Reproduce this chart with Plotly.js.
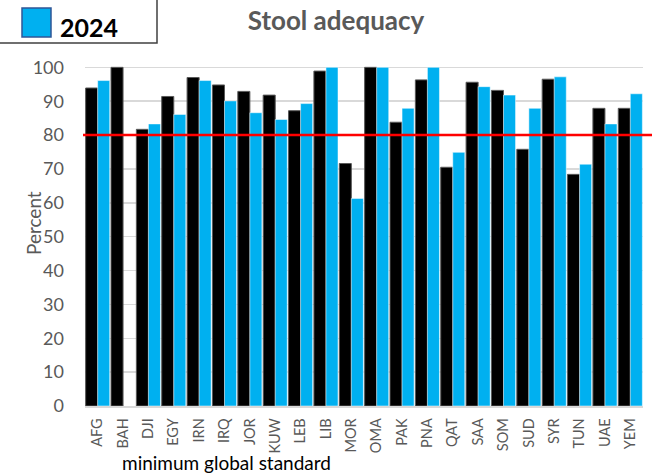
<!DOCTYPE html>
<html>
<head>
<meta charset="utf-8">
<script src="https://cdn.plot.ly/plotly-3.0.1.min.js"></script>
<style>html,body{margin:0;padding:0;background:#fff;}#chart{width:652px;height:476px;}</style>
</head>
<body>
<div id="chart"></div>
<script>
const countries = ["AFG","BAH","DJI","EGY","IRN","IRQ","JOR","KUW","LEB","LIB","MOR","OMA","PAK","PNA","QAT","SAA","SOM","SUD","SYR","TUN","UAE","YEM"];
const prevYear = [93.9,100,81.7,91.4,97.0,94.8,92.9,91.8,87.2,98.9,71.6,100,83.8,96.3,70.5,95.6,93.2,75.8,96.5,68.4,87.9,87.9];
const year2024 = [96.1,null,83.3,86.1,96.1,90.1,86.6,84.6,89.3,100,61.3,100,87.9,100,74.9,94.3,91.8,87.9,97.2,71.4,83.3,92.2];
const standard = 80;
const yTicks = [0,10,20,30,40,50,60,70,80,90,100];

const W = 652, H = 476;
const L = 85, R = 643, T = 66, B = 406;
const px = x => (x - L) / (R - L);
const py = y => (B - y) / (B - T);

const font = "Lato, 'Open Sans', sans-serif";
const grey = "#595959";

const traces = [
  {type:"bar", x:countries, y:prevYear, name:"previous", showlegend:false,
   marker:{color:"#000000", line:{color:"#595959", width:1}}},
  {type:"bar", x:countries, y:year2024, name:"2024", showlegend:false,
   marker:{color:"#00B0F0", line:{color:"#ffffff", width:0.5}}}
];

const layout = {
  width:W, height:H,
  margin:{l:L, r:W-R, t:T, b:H-B, pad:0},
  paper_bgcolor:"#ffffff", plot_bgcolor:"#ffffff",
  barmode:"group", bargap:0.05, bargroupgap:0,
  font:{family:font, color:grey},
  xaxis:{type:"category", tickangle:-90, tickfont:{size:14.5, color:grey, family:font},
         showgrid:false, showline:true, linecolor:"#d9d9d9", linewidth:1.5, ticks:"", ticklen:0,
         ticklabelstandoff:5},
  yaxis:{range:[0,100.4], tickvals:yTicks, tickfont:{size:18, color:grey, family:font},
         showgrid:true, gridcolor:"#d9d9d9", gridwidth:1.5, zeroline:false, showline:false,
         ticks:"", ticklabelstandoff:20},
  title:{text:"<b>Stool adequacy</b>", font:{size:26, color:grey, family:font},
         x:px(336), xref:"paper", xanchor:"center", y:1-21/H, yref:"container", yanchor:"middle"},
  shapes:[
    {type:"line", xref:"paper", yref:"y", x0:px(83), x1:px(652), y0:standard, y1:standard,
     line:{color:"#FF0000", width:2.5}},
    {type:"rect", xref:"paper", yref:"paper", x0:px(-3), x1:px(157), y0:py(43), y1:py(-3),
     line:{color:"#404040", width:1.5}, fillcolor:"rgba(0,0,0,0)"},
    {type:"rect", xref:"paper", yref:"paper", x0:px(22), x1:px(51), y0:py(37), y1:py(8),
     line:{color:"#2F5597", width:1.5}, fillcolor:"#00B0F0"}
  ],
  annotations:[
    {text:"<b>2024</b>", xref:"paper", yref:"paper", x:px(58), y:py(27), xanchor:"left", yanchor:"middle",
     showarrow:false, font:{size:25, color:"#000000", family:font}},
    {text:"Percent", xref:"paper", yref:"paper", x:px(33), y:py(223), xanchor:"center", yanchor:"middle",
     textangle:-90, showarrow:false, font:{size:19, color:grey, family:font}},
    {text:"minimum global standard", xref:"paper", yref:"paper", x:px(120), y:py(476), xanchor:"left", yanchor:"bottom",
     showarrow:false, font:{size:19, color:"#000000", family:font}}
  ]
};

Plotly.newPlot("chart", traces, layout, {displayModeBar:false, staticPlot:true});
</script>
</body>
</html>
